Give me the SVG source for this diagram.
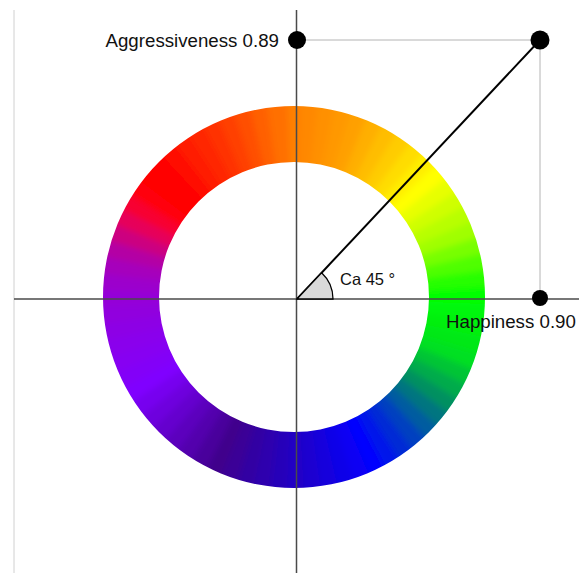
<svg xmlns="http://www.w3.org/2000/svg" xmlns:xlink="http://www.w3.org/1999/xlink" width="579" height="573" viewBox="0 0 579 573">
<style>
.lbl{font-family:"Liberation Sans",Arial,sans-serif;font-size:18.7px;fill:#111}
.axis{stroke:#4a4a4a;stroke-width:1.5;fill:none}
.guide{stroke:#b4b4b4;stroke-width:1;fill:none}
.dot{fill:#000}
</style>
<defs>
<path id="seg" d="M-10.47,-199.73 A200,200 0 0 1 10.47,-199.73 L6.54,-124.83 A125,125 0 0 0 -6.54,-124.83 Z"/>
<clipPath id="ringClip"><path d="M294,106 A191,191 0 1 1 294,488 A191,191 0 1 1 294,106 Z M294,162 A135,135 0 1 0 294,432 A135,135 0 1 0 294,162 Z" clip-rule="evenodd"/></clipPath>
<filter id="soft" x="-10%" y="-10%" width="120%" height="120%"><feGaussianBlur stdDeviation="3"/></filter>
</defs>
<rect width="579" height="573" fill="#fff"/>
<g id="colour-wheel" clip-path="url(#ringClip)">
<g filter="url(#soft)" transform="translate(294,297)">
<use xlink:href="#seg" transform="rotate(0)" fill="#ff8000"/>
<use xlink:href="#seg" transform="rotate(5)" fill="#ff8800"/>
<use xlink:href="#seg" transform="rotate(10)" fill="#ff9000"/>
<use xlink:href="#seg" transform="rotate(15)" fill="#ff9800"/>
<use xlink:href="#seg" transform="rotate(20)" fill="#ffa000"/>
<use xlink:href="#seg" transform="rotate(25)" fill="#ffaf00"/>
<use xlink:href="#seg" transform="rotate(30)" fill="#ffbd00"/>
<use xlink:href="#seg" transform="rotate(35)" fill="#ffcc00"/>
<use xlink:href="#seg" transform="rotate(40)" fill="#ffdd00"/>
<use xlink:href="#seg" transform="rotate(45)" fill="#ffee00"/>
<use xlink:href="#seg" transform="rotate(50)" fill="#ffff00"/>
<use xlink:href="#seg" transform="rotate(55)" fill="#e7ff00"/>
<use xlink:href="#seg" transform="rotate(60)" fill="#cfff00"/>
<use xlink:href="#seg" transform="rotate(65)" fill="#b8ff00"/>
<use xlink:href="#seg" transform="rotate(70)" fill="#a0ff00"/>
<use xlink:href="#seg" transform="rotate(75)" fill="#78ff00"/>
<use xlink:href="#seg" transform="rotate(80)" fill="#50ff00"/>
<use xlink:href="#seg" transform="rotate(85)" fill="#28ff00"/>
<use xlink:href="#seg" transform="rotate(90)" fill="#00ff00"/>
<use xlink:href="#seg" transform="rotate(95)" fill="#00f708"/>
<use xlink:href="#seg" transform="rotate(100)" fill="#00f010"/>
<use xlink:href="#seg" transform="rotate(105)" fill="#00e818"/>
<use xlink:href="#seg" transform="rotate(110)" fill="#00e020"/>
<use xlink:href="#seg" transform="rotate(115)" fill="#00c535"/>
<use xlink:href="#seg" transform="rotate(120)" fill="#00ab4b"/>
<use xlink:href="#seg" transform="rotate(125)" fill="#009060"/>
<use xlink:href="#seg" transform="rotate(130)" fill="#007580"/>
<use xlink:href="#seg" transform="rotate(135)" fill="#005ba0"/>
<use xlink:href="#seg" transform="rotate(140)" fill="#0040c0"/>
<use xlink:href="#seg" transform="rotate(145)" fill="#002bd5"/>
<use xlink:href="#seg" transform="rotate(150)" fill="#0015ea"/>
<use xlink:href="#seg" transform="rotate(155)" fill="#0000ff"/>
<use xlink:href="#seg" transform="rotate(160)" fill="#0700f3"/>
<use xlink:href="#seg" transform="rotate(165)" fill="#0d00e8"/>
<use xlink:href="#seg" transform="rotate(170)" fill="#1400dc"/>
<use xlink:href="#seg" transform="rotate(175)" fill="#1a00d0"/>
<use xlink:href="#seg" transform="rotate(180)" fill="#2000c5"/>
<use xlink:href="#seg" transform="rotate(185)" fill="#2700b9"/>
<use xlink:href="#seg" transform="rotate(190)" fill="#2d00ae"/>
<use xlink:href="#seg" transform="rotate(195)" fill="#3300a3"/>
<use xlink:href="#seg" transform="rotate(200)" fill="#3a0097"/>
<use xlink:href="#seg" transform="rotate(205)" fill="#40008c"/>
<use xlink:href="#seg" transform="rotate(210)" fill="#49009c"/>
<use xlink:href="#seg" transform="rotate(215)" fill="#5200ad"/>
<use xlink:href="#seg" transform="rotate(220)" fill="#5b00bd"/>
<use xlink:href="#seg" transform="rotate(225)" fill="#6500ce"/>
<use xlink:href="#seg" transform="rotate(230)" fill="#6e00de"/>
<use xlink:href="#seg" transform="rotate(235)" fill="#7700ef"/>
<use xlink:href="#seg" transform="rotate(240)" fill="#8000ff"/>
<use xlink:href="#seg" transform="rotate(245)" fill="#8300f8"/>
<use xlink:href="#seg" transform="rotate(250)" fill="#8700f2"/>
<use xlink:href="#seg" transform="rotate(255)" fill="#8a00ec"/>
<use xlink:href="#seg" transform="rotate(260)" fill="#8d00e5"/>
<use xlink:href="#seg" transform="rotate(265)" fill="#9100de"/>
<use xlink:href="#seg" transform="rotate(270)" fill="#9400d8"/>
<use xlink:href="#seg" transform="rotate(275)" fill="#9c00cc"/>
<use xlink:href="#seg" transform="rotate(280)" fill="#a600bc"/>
<use xlink:href="#seg" transform="rotate(285)" fill="#b400a4"/>
<use xlink:href="#seg" transform="rotate(290)" fill="#cc0080"/>
<use xlink:href="#seg" transform="rotate(295)" fill="#e6005a"/>
<use xlink:href="#seg" transform="rotate(300)" fill="#f80030"/>
<use xlink:href="#seg" transform="rotate(305)" fill="#ff0010"/>
<use xlink:href="#seg" transform="rotate(310)" fill="#ff0000"/>
<use xlink:href="#seg" transform="rotate(315)" fill="#ff0000"/>
<use xlink:href="#seg" transform="rotate(320)" fill="#ff0d00"/>
<use xlink:href="#seg" transform="rotate(325)" fill="#ff1a00"/>
<use xlink:href="#seg" transform="rotate(330)" fill="#ff2600"/>
<use xlink:href="#seg" transform="rotate(335)" fill="#ff3300"/>
<use xlink:href="#seg" transform="rotate(340)" fill="#ff4000"/>
<use xlink:href="#seg" transform="rotate(345)" fill="#ff5000"/>
<use xlink:href="#seg" transform="rotate(350)" fill="#ff6000"/>
<use xlink:href="#seg" transform="rotate(355)" fill="#ff7000"/>
</g>
</g>
<g id="connectors">
<line x1="14" y1="10" x2="14" y2="573" stroke="#d0d0d0" stroke-width="1"/>
<line class="axis" x1="296.5" y1="10" x2="296.5" y2="573"/>
<line class="axis" x1="14" y1="299" x2="579" y2="299"/>
<line class="guide" x1="297" y1="40" x2="540" y2="40"/>
<line class="guide" x1="540" y1="40" x2="540" y2="298"/>
<line x1="297" y1="299" x2="540" y2="40" stroke="#000" stroke-width="2"/>
</g>
<g id="angle">
<path d="M297,299 L333,299 A36,36 0 0 0 321.6,272.8 Z" fill="#d9d9d9" stroke="#000" stroke-width="1.3"/>
<text class="lbl" x="340" y="285" style="font-size:16.5px">Ca 45 °</text>
</g>
<g id="aggressiveness">
<circle class="dot" cx="297" cy="40" r="9"/>
<text class="lbl" x="279" y="47" text-anchor="end">Aggressiveness 0.89</text>
</g>
<g id="point">
<circle class="dot" cx="540" cy="40" r="9.5"/>
</g>
<g id="happiness">
<circle class="dot" cx="540" cy="298" r="8"/>
<text class="lbl" x="446" y="328">Happiness 0.90</text>
</g>
</svg>
